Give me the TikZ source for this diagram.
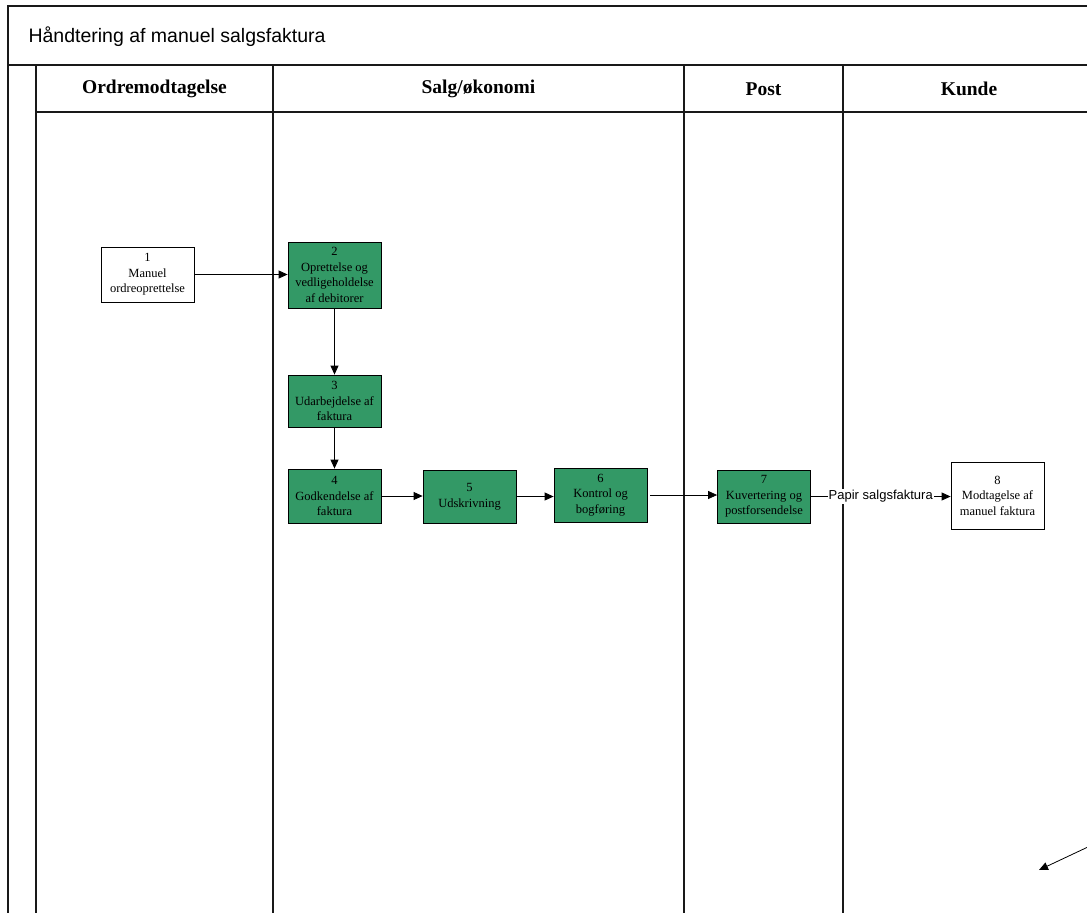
\documentclass[tikz,border=0pt]{standalone}
\usepackage{fontspec}
\setmainfont{Liberation Serif}
\newfontfamily\arialfont{Liberation Sans}
\usetikzlibrary{arrows.meta}
\definecolor{procgreen}{RGB}{51,153,102}
\tikzset{
  frame/.style={line width=1.5pt, black!90},
  proc/.style={draw, line width=0.8pt, inner sep=0pt, align=center,
    font=\fontsize{12.5}{15.5}\selectfont, minimum width=93pt},
  greenproc/.style={proc, fill=procgreen},
  whiteproc/.style={proc, fill=white},
  flow/.style={line width=0.8pt, -{Triangle[length=9pt,width=8pt]}},
  lanehead/.style={font=\fontsize{19.5}{22}\selectfont\bfseries},
}
\begin{document}
\begin{tikzpicture}[x=1pt,y=-1pt]
\useasboundingbox (0,0) rectangle (1087,913);

% pool frame and swimlane lines
\draw[frame] (1087,6) -- (8,6) -- (8,913);
\draw[frame] (8,65) -- (1087,65);
\draw[frame] (36,112) -- (1087,112);
\foreach \x in {36,273,684,843} \draw[frame] (\x,65) -- (\x,913);

% titles
\node[anchor=west, font=\arialfont\fontsize{19.5}{22}\selectfont] (title) at (25,37) {Håndtering af manuel salgsfaktura};
\node[lanehead] (h1) at (154.5,89) {Ordremodtagelse};
\node[lanehead] (h2) at (478.5,89) {Salg/økonomi};
\node[lanehead] (h3) at (763.5,89) {Post};
\node[lanehead] (h4) at (969,89) {Kunde};

% process steps
\node[whiteproc, minimum height=55pt] (n1) at (147.5,274.5) {1\\Manuel\\ordreoprettelse};
\node[greenproc, minimum height=66pt] (n2) at (334.5,275) {2\\Oprettelse og\\vedligeholdelse\\af debitorer};
\node[greenproc, minimum height=52pt] (n3) at (334.5,401) {3\\Udarbejdelse af\\faktura};
\node[greenproc, minimum height=54pt] (n4) at (334.5,496) {4\\Godkendelse af\\faktura};
\node[greenproc, minimum height=53pt] (n5) at (469.5,496.5) {5\\Udskrivning};
\node[greenproc, minimum height=54pt] (n6) at (600.5,495) {6\\Kontrol og\\bogføring};
\node[greenproc, minimum height=53pt] (n7) at (764,496.5) {7\\Kuvertering og\\postforsendelse};
\node[whiteproc, minimum height=67pt] (n8) at (997.5,495.5) {8\\Modtagelse af\\manuel faktura};

% flows
\draw[flow] (n1.east) -- (n1.east -| n2.west);
\draw[flow] (n2) -- (n3);
\draw[flow] (n3) -- (n4);
\draw[flow] (n4.east) -- (n4.east -| n5.west);
\draw[flow] (n5.east) -- (n5.east -| n6.west);
\draw[flow, shorten <=3pt] (n6.east) -- (n6.east -| n7.west);
\draw[flow] (n7.east) -- node[fill=white, inner sep=1pt, font=\arialfont\fontsize{13}{15}\selectfont] (lbl) {Papir salgsfaktura} (n7.east -| n8.west);

% loose connector at the lower right
\coordinate (fs) at (1090,846);
\coordinate (fe) at (1039,870);
\draw[flow] (fs) -- (fe);
\end{tikzpicture}
\end{document}
